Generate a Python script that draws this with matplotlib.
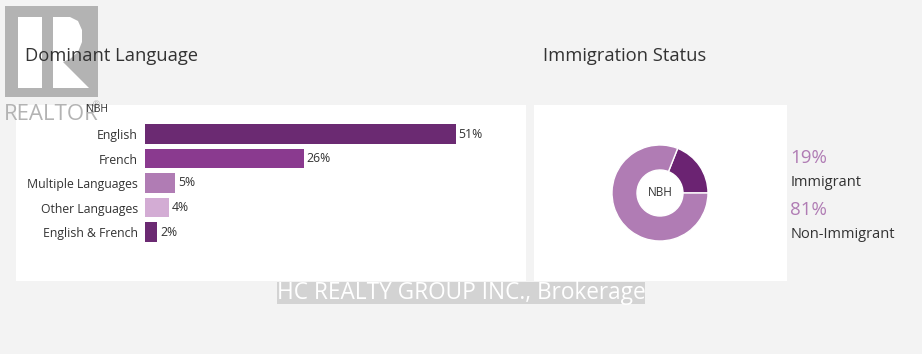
import matplotlib
matplotlib.use("Agg")
import matplotlib.pyplot as plt
from matplotlib.patches import Rectangle, Polygon

plt.rcParams['font.family'] = ['Open Sans', 'DejaVu Sans']

# ---- data ----
languages = ["English", "French", "Multiple Languages", "Other Languages", "English & French"]
lang_values = [51, 26, 5, 4, 2]
lang_colors = ["#6b2a72", "#8a3a8f", "#b07cb4", "#d3acd4", "#6b2a72"]

imm_labels = ["Immigrant", "Non-Immigrant"]
imm_values = [19, 81]
imm_colors = ["#6b2372", "#b07cb4"]

W, H = 922, 354
fig = plt.figure(figsize=(W / 100, H / 100), dpi=100)
fig.patch.set_facecolor("#f3f3f3")

def fx(px):
    return px / W

def fy(py):
    return 1 - py / H

# panels
fig.patches.append(Rectangle((fx(16), fy(281)), fx(510), 176 / H, transform=fig.transFigure,
                             facecolor="white", edgecolor="none", zorder=-2))
fig.patches.append(Rectangle((fx(534), fy(281)), fx(253), 176 / H, transform=fig.transFigure,
                             facecolor="white", edgecolor="none", zorder=-2))

# REALTOR logo watermark
logo_gray = "#b3b3b3"
fig.patches.append(Rectangle((fx(5), fy(97)), fx(93), 91 / H, transform=fig.transFigure,
                             facecolor=logo_gray, edgecolor="none", zorder=-1))
fig.patches.append(Rectangle((fx(18), fy(88)), fx(24), 71 / H, transform=fig.transFigure,
                             facecolor="white", edgecolor="none", zorder=-1))
r_pts = [(53, 17), (70, 17), (78, 21), (82, 30), (82, 42), (78, 52), (70, 59), (63, 62),
         (89, 88), (53, 88)]
fig.patches.append(Polygon([(fx(x), fy(y)) for x, y in r_pts], closed=True,
                           transform=fig.transFigure, facecolor="white", edgecolor="none", zorder=-1))
fig.text(fx(4), fy(115), "REALTOR", fontsize=16, color=logo_gray, va="center", ha="left", zorder=-1)
fig.text(fx(93), fy(105), "®", fontsize=6, color=logo_gray, va="center", ha="left", zorder=-1)

# titles
fig.text(fx(25), fy(56), "Dominant Language", fontsize=13.2, color="#333333", va="center", ha="left")
fig.text(fx(543), fy(56), "Immigration Status", fontsize=13.2, color="#333333", va="center", ha="left")
fig.text(fx(86), fy(110), "NBH", fontsize=7.5, color="#333333", va="center", ha="left")

# bar chart
ax = fig.add_axes([fx(145), fy(244.25), fx(375), 122.5 / H], zorder=1)
ax.set_facecolor("none")
ypos = list(range(len(languages)))
ax.barh(ypos, lang_values, height=0.78, color=lang_colors, edgecolor="none")
ax.set_ylim(len(languages) - 0.5, -0.5)
ax.set_xlim(0, 51 * 375 / 311)
for y, v in zip(ypos, lang_values):
    ax.text(v + 0.45, y, f"{v}%", va="center", ha="left", fontsize=8.8, color="#333333")
ax.set_yticks(ypos)
ax.set_yticklabels(languages, fontsize=8.8, color="#333333")
ax.tick_params(axis="y", length=0, pad=5)
ax.set_xticks([])
for s in ax.spines.values():
    s.set_visible(False)

# donut
cx, cy, r = 660, 193, 48
ax2 = fig.add_axes([fx(cx - r), fy(cy + r), fx(2 * r), 2 * r / H], zorder=1)
ax2.pie(imm_values, colors=imm_colors, startangle=0, counterclock=True, radius=1,
        wedgeprops=dict(width=25 / 48, edgecolor="white", linewidth=1))
ax2.set_xlim(-1, 1)
ax2.set_ylim(-1, 1)
ax2.set_aspect("auto")
ax2.text(0, 0, "NBH", ha="center", va="center", fontsize=8.5, color="#333333")

# legend
leg_y = [(158, 182), (210, 234)]
for (py1, py2), lab, v in zip(leg_y, imm_labels, imm_values):
    fig.text(fx(790), fy(py1), f"{v}%", fontsize=13.5, color="#b07cb4", va="center", ha="left")
    fig.text(fx(791), fy(py2), lab, fontsize=10.5, color="#333333", va="center", ha="left")

# brokerage watermark
fig.patches.append(Rectangle((fx(277), fy(304)), fx(368), 22 / H, transform=fig.transFigure,
                             facecolor="#cccccc", alpha=0.8, edgecolor="none", zorder=2))
fig.text(fx(277), fy(293), "HC REALTY GROUP INC., Brokerage", fontsize=16.3, color="white",
         va="center", ha="left", zorder=3)

fig.savefig("out.png", dpi=100, facecolor=fig.get_facecolor())
